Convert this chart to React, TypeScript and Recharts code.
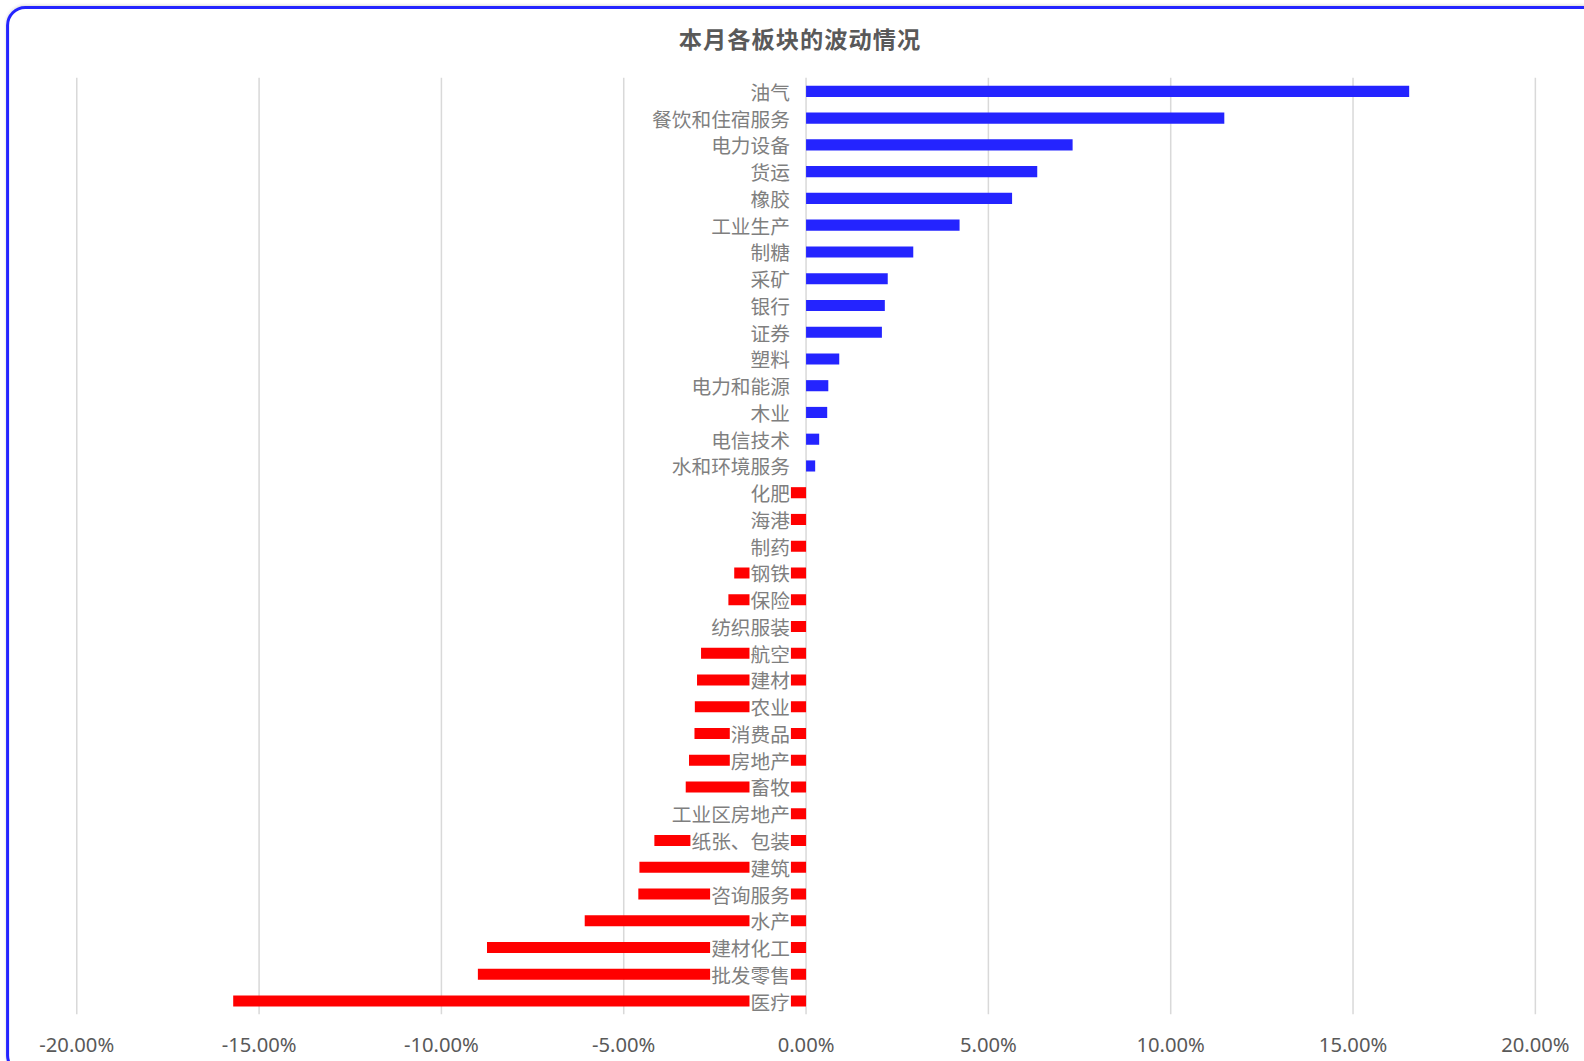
import React from "react";
import { BarChart, Bar, XAxis, YAxis, CartesianGrid, Cell, LabelList } from "recharts";

const sectors = [
  "油气", "餐饮和住宿服务", "电力设备", "货运", "橡胶", "工业生产", "制糖", "采矿", "银行", "证券",
  "塑料", "电力和能源", "木业", "电信技术", "水和环境服务", "化肥", "海港", "制药", "钢铁", "保险",
  "纺织服装", "航空", "建材", "农业", "消费品", "房地产", "畜牧", "工业区房地产", "纸张、包装", "建筑",
  "咨询服务", "水产", "建材化工", "批发零售", "医疗",
];

const changes = [
  0.1654, 0.1147, 0.0731, 0.0634, 0.0565, 0.0421, 0.0294, 0.0224, 0.0216, 0.0208,
  0.0091, 0.0061, 0.0058, 0.0036, 0.0025, -0.005, -0.007, -0.009, -0.0197, -0.0213,
  -0.025, -0.0288, -0.0299, -0.0305, -0.0306, -0.0321, -0.033, -0.035, -0.0416, -0.0457,
  -0.046, -0.0607, -0.0875, -0.09, -0.1571,
];

const xTicks = [-0.2, -0.15, -0.1, -0.05, 0, 0.05, 0.1, 0.15, 0.2];

const UP = "#2424ff";
const DOWN = "#ff0000";
const LABEL_SIZE = 19.5;
const FIT = 1600 / 1584;

const data = sectors.map((name, i) => ({ name, value: changes[i] }));

const pct = (v: number) => `${(v * 100).toFixed(2)}%`;

// category label sits next to the zero line, with a white box over the bar
const SectorLabel = (props: any) => {
  const { x, y, width, height, value, index } = props;
  const v = changes[index];
  const zeroX = v >= 0 ? Math.min(x, x + width) : Math.max(x, x + width);
  const right = zeroX - 16;
  const textW = String(value).length * LABEL_SIZE;
  const cy = y + height / 2;
  return (
    <g>
      <rect x={right - textW - 1} y={cy - 11} width={textW + 2} height={22} fill="#ffffff" />
      <text
        x={right}
        y={cy}
        textAnchor="end"
        dominantBaseline="central"
        fill="#7f7f7f"
        fontSize={LABEL_SIZE}
        fontFamily="'Noto Sans CJK SC', sans-serif"
      >
        {value}
      </text>
    </g>
  );
};

export default function App() {
  return (
    <div style={{ position: "fixed", left: 0, top: 0, width: 1584, height: 1061, overflow: "hidden", background: "#fff" }}>
      <div style={{ position: "absolute", left: 0, top: 0, width: 1584, height: 1061, transform: `scale(${FIT})`, transformOrigin: "0 0" }}>
        <div
          style={{
            position: "absolute",
            left: 6,
            top: 6,
            width: 1590,
            height: 1058,
            boxSizing: "border-box",
            border: "3px solid #2424ff",
            borderRadius: 19,
            boxShadow: "0 -1px 3px rgba(0,0,0,0.15)",
          }}
        />
        <div
          style={{
            position: "absolute",
            left: 0,
            top: 22,
            width: 1584,
            textAlign: "center",
            fontFamily: "'Noto Sans CJK SC', sans-serif",
            fontWeight: 700,
            fontSize: 23,
            letterSpacing: 1,
            color: "#595959",
            lineHeight: "32px",
          }}
        >
          本月各板块的波动情况
        </div>
        <div style={{ position: "absolute", left: 0, top: 0 }}>
          <BarChart
            width={1584}
            height={1061}
            data={data}
            layout="vertical"
            margin={{ top: 77, right: 64, bottom: 27, left: 76 }}
          >
            <CartesianGrid horizontal={false} stroke="#d9d9d9" strokeWidth={1.5} />
            <XAxis
              type="number"
              domain={[-0.2, 0.2]}
              ticks={xTicks}
              tickFormatter={pct}
              axisLine={false}
              tickLine={false}
              height={30}
              tickMargin={17}
              interval={0}
              tick={{ fill: "#595959", fontSize: 20, fontFamily: "'Noto Sans', sans-serif" }}
            />
            <YAxis type="category" dataKey="name" hide width={0} />
            <Bar dataKey="value" barSize={11} isAnimationActive={false}>
              {data.map((d, i) => (
                <Cell key={`cell-${i}`} fill={d.value >= 0 ? UP : DOWN} />
              ))}
              <LabelList dataKey="name" content={SectorLabel} />
            </Bar>
          </BarChart>
        </div>
      </div>
    </div>
  );
}
